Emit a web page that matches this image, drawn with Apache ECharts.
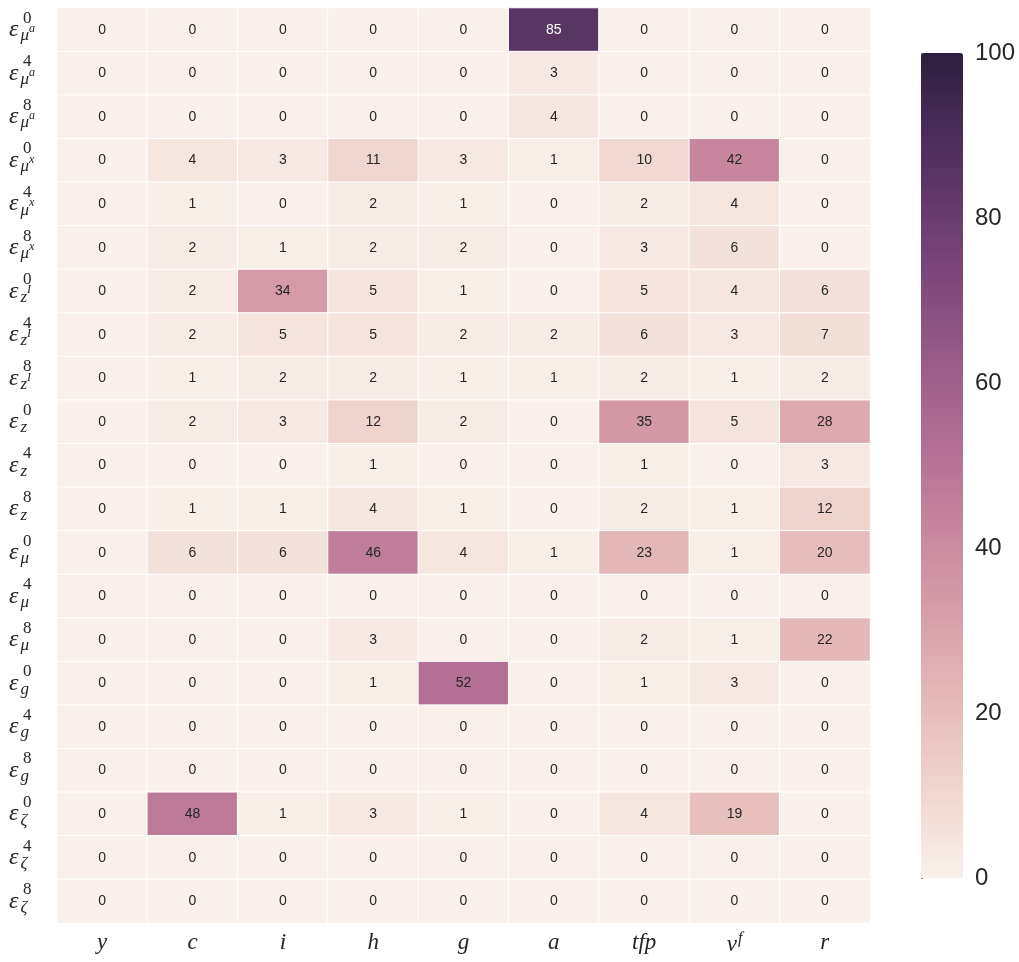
<!DOCTYPE html>
<html><head><meta charset="utf-8">
<script src="https://cdn.jsdelivr.net/npm/echarts@6/dist/echarts.min.js"></script>
<style>html,body{margin:0;padding:0;background:#fff}#c{width:1019px;height:962px}</style>
</head><body><div id="c"></div>
<script>
// ---- data ----
const columns = ['y', 'c', 'i', 'h', 'g', 'a', 'tfp', 'v', 'r'];
const columnSup = ['', '', '', '', '', '', '', 'f', ''];
const shockHorizon = ['0','4','8','0','4','8','0','4','8','0','4','8','0','4','8','0','4','8','0','4','8'];
const shockVar = ['μ','μ','μ','μ','μ','μ','z','z','z','z','z','z','μ','μ','μ','g','g','g','ζ','ζ','ζ'];
const shockVarSup = ['a','a','a','x','x','x','I','I','I','','','','','','','','','','','',''];
const shares = [
  [0, 0, 0, 0, 0, 85, 0, 0, 0],
  [0, 0, 0, 0, 0, 3, 0, 0, 0],
  [0, 0, 0, 0, 0, 4, 0, 0, 0],
  [0, 4, 3, 11, 3, 1, 10, 42, 0],
  [0, 1, 0, 2, 1, 0, 2, 4, 0],
  [0, 2, 1, 2, 2, 0, 3, 6, 0],
  [0, 2, 34, 5, 1, 0, 5, 4, 6],
  [0, 2, 5, 5, 2, 2, 6, 3, 7],
  [0, 1, 2, 2, 1, 1, 2, 1, 2],
  [0, 2, 3, 12, 2, 0, 35, 5, 28],
  [0, 0, 0, 1, 0, 0, 1, 0, 3],
  [0, 1, 1, 4, 1, 0, 2, 1, 12],
  [0, 6, 6, 46, 4, 1, 23, 1, 20],
  [0, 0, 0, 0, 0, 0, 0, 0, 0],
  [0, 0, 0, 3, 0, 0, 2, 1, 22],
  [0, 0, 0, 1, 52, 0, 1, 3, 0],
  [0, 0, 0, 0, 0, 0, 0, 0, 0],
  [0, 0, 0, 0, 0, 0, 0, 0, 0],
  [0, 48, 1, 3, 1, 0, 4, 19, 0],
  [0, 0, 0, 0, 0, 0, 0, 0, 0],
  [0, 0, 0, 0, 0, 0, 0, 0, 0]
];
const scaleMin = 0, scaleMax = 100, scaleStep = 20;

// ---- colour map (seaborn cubehelix, light .95 dark .15) ----
function helix(x) {
  const hue = 0.8, rot = 0.4, start = 0;
  const a = hue * x * (1 - x) / 2;
  const phi = 2 * Math.PI * (start / 3 + rot * x);
  const f = (p0, p1) => Math.min(1, Math.max(0, x + a * (p0 * Math.cos(phi) + p1 * Math.sin(phi))));
  return [f(-0.14861, 1.78277), f(-0.29227, -0.90649), f(1.97294, 0)];
}
function valueRGB(v) {
  const t = (v - scaleMin) / (scaleMax - scaleMin);
  return helix(0.95 - 0.8 * t);
}
const toHex = c => '#' + c.map(u => Math.round(u * 255).toString(16).padStart(2, '0')).join('');
const stops = [];
for (let k = 0; k <= 40; k++) stops.push(toHex(valueRGB(scaleMin + (scaleMax - scaleMin) * k / 40)));

const rowNames = shockHorizon.map((h, i) => 'e' + h + '_' + shockVar[i] + shockVarSup[i] + '#' + i);

const cells = [];
shares.forEach((row, r) => row.forEach((v, c) => {
  const rgb = valueRGB(v);
  const lum = 0.299 * rgb[0] + 0.587 * rgb[1] + 0.114 * rgb[2];
  cells.push({ value: [c, r, v], label: { color: lum < 0.408 ? '#ffffff' : '#262626' } });
}));

const chart = echarts.init(document.getElementById('c'), null, { renderer: 'canvas' });
const serif = 'Liberation Serif';
chart.setOption({
  backgroundColor: '#ffffff',
  animation: false,
  grid: [
    { left: 57, top: 8, width: 813, height: 915 },
    { left: 921, top: 53, width: 42, height: 825 }
  ],
  xAxis: [
    {
      type: 'category', gridIndex: 0, data: columns, position: 'bottom',
      axisLine: { show: false }, axisTick: { show: false }, splitLine: { show: false },
      axisLabel: {
        margin: 8,
        formatter: (val, idx) => columnSup[idx] ? '{i|' + val + '}{s|' + columnSup[idx] + '}' : '{i|' + val + '}',
        rich: {
          i: { fontFamily: serif, fontStyle: 'italic', fontSize: 23, color: '#262626' },
          s: { fontFamily: serif, fontStyle: 'italic', fontSize: 16, color: '#262626', padding: [0, 0, 12, 1] }
        }
      }
    },
    { type: 'value', gridIndex: 1, min: 0, max: 1, show: false }
  ],
  yAxis: [
    {
      type: 'category', gridIndex: 0, data: rowNames, inverse: true, position: 'left',
      axisLine: { show: false }, axisTick: { show: false }, splitLine: { show: false },
      axisLabel: {
        align: 'left', margin: 48,
        formatter: (val, idx) => '{e|ε}{s|' + shockVar[idx] + '}' + (shockVarSup[idx] ? '{ss|' + shockVarSup[idx] + '}' : ''),
        rich: {
          e: { fontFamily: serif, fontStyle: 'italic', fontSize: 24, color: '#262626' },
          s: { fontFamily: serif, fontStyle: 'italic', fontSize: 17, color: '#262626', padding: [12, 0, 0, 2] },
          ss: { fontFamily: serif, fontStyle: 'italic', fontSize: 12, color: '#262626', padding: [0, 0, 2, 0] }
        }
      }
    },
    {
      type: 'category', gridIndex: 0, data: rowNames, inverse: true, position: 'left',
      axisLine: { show: false }, axisTick: { show: false }, splitLine: { show: false },
      axisLabel: {
        align: 'left', margin: 34,
        formatter: (val, idx) => '{p|' + shockHorizon[idx] + '}',
        rich: {
          p: { fontFamily: serif, fontSize: 17, color: '#262626', padding: [0, 0, 23, 0] }
        }
      }
    },
    {
      type: 'value', gridIndex: 1, min: scaleMin, max: scaleMax, interval: scaleStep, position: 'right',
      axisLine: { show: false }, splitLine: { show: false },
      axisTick: { show: true, length: 2, lineStyle: { color: '#888' } },
      axisLabel: { margin: 12, fontFamily: 'Liberation Sans', fontSize: 24, color: '#262626' }
    }
  ],
  visualMap: {
    type: 'continuous', min: scaleMin, max: scaleMax, seriesIndex: 0,
    left: 921, top: 53, itemWidth: 42, itemHeight: 825, padding: 0,
    calculable: false, hoverLink: false, showLabel: false,
    inRange: { color: stops }
  },
  series: [{
    type: 'heatmap', xAxisIndex: 0, yAxisIndex: 0, data: cells,
    itemStyle: { borderColor: '#ffffff', borderWidth: 1 },
    label: { show: true, fontFamily: 'Liberation Sans', fontSize: 14, formatter: p => String(p.value[2]) },
    emphasis: { disabled: true }
  }]
});
</script>
</body></html>
